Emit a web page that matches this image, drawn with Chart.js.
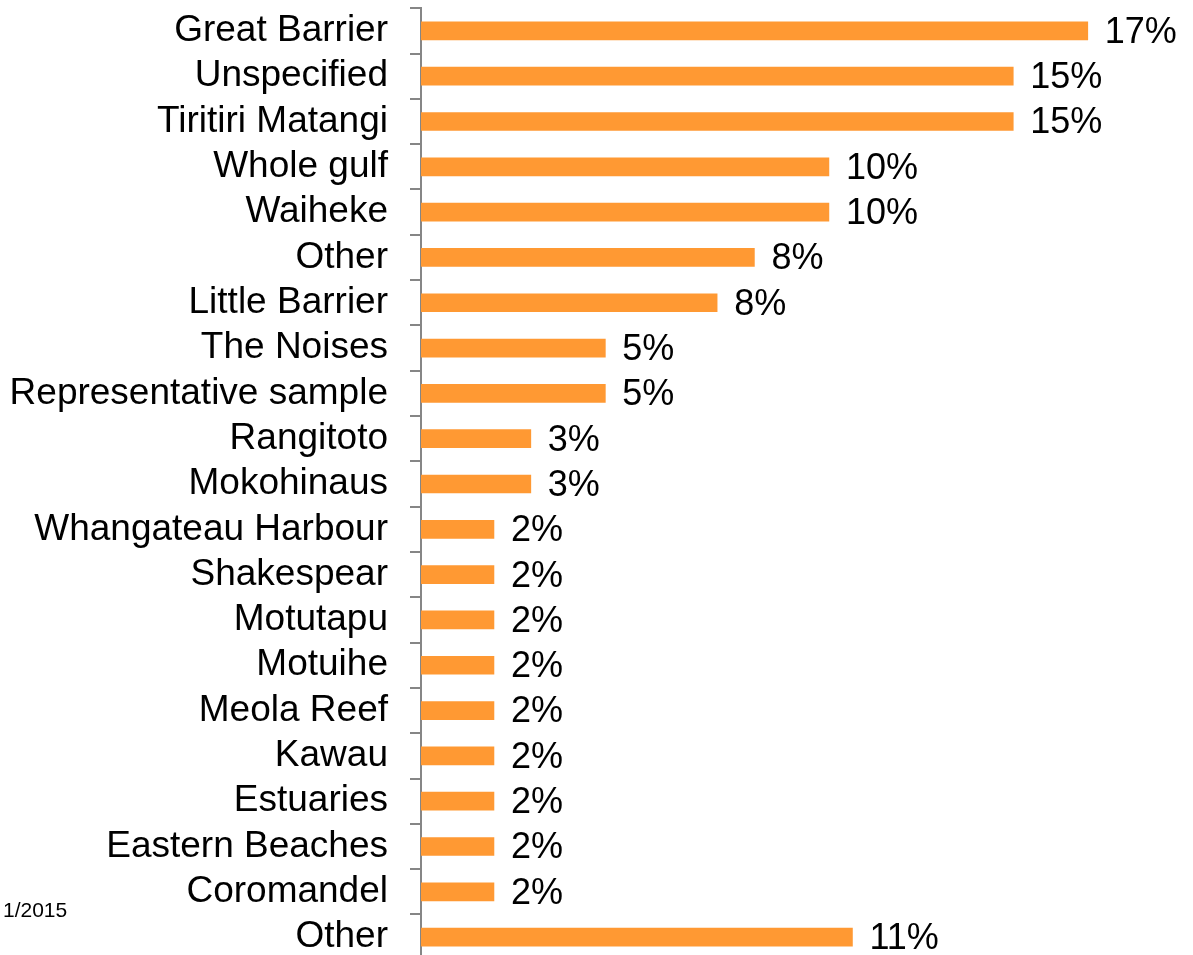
<!DOCTYPE html>
<html>
<head>
<meta charset="utf-8">
<script src="https://cdn.jsdelivr.net/npm/chart.js@4/dist/chart.umd.min.js"></script>
<style>
  html, body { margin: 0; padding: 0; background: #fff; overflow: hidden; }
  #wrap { position: relative; width: 1193px; height: 955px; overflow: hidden; }
  #c { position: absolute; left: 0; top: -36px; }
  #note { position: absolute; left: 3px; top: 898px; font: 21px "Liberation Sans", Arial, sans-serif; color: #000; }
</style>
</head>
<body>
<div id="wrap">
  <canvas id="c" width="1193" height="1040"></canvas>
  <div id="note">1/2015</div>
</div>
<script>
const categories = ["Great Barrier", "Unspecified", "Tiritiri Matangi", "Whole gulf", "Waiheke", "Other", "Little Barrier", "The Noises", "Representative sample", "Rangitoto", "Mokohinaus", "Whangateau Harbour", "Shakespear", "Motutapu", "Motuihe", "Meola Reef", "Kawau", "Estuaries", "Eastern Beaches", "Coromandel", "Other"];
const values = [17.0, 15.1, 15.1, 10.4, 10.4, 8.5, 7.55, 4.7, 4.7, 2.8, 2.8, 1.86, 1.86, 1.86, 1.86, 1.86, 1.86, 1.86, 1.86, 1.86, 11.0];
const valueLabels = ["17%", "15%", "15%", "10%", "10%", "8%", "8%", "5%", "5%", "3%", "3%", "2%", "2%", "2%", "2%", "2%", "2%", "2%", "2%", "2%", "11%"];

const FONT = '"Liberation Sans", Arial, sans-serif';

const labelPlugin = {
  id: 'valueLabels',
  afterDatasetsDraw(chart) {
    const ctx = chart.ctx;
    const meta = chart.getDatasetMeta(0);
    ctx.save();
    ctx.font = '36px ' + FONT;
    ctx.fillStyle = '#000';
    ctx.textAlign = 'left';
    ctx.textBaseline = 'middle';
    meta.data.forEach((bar, i) => {
      ctx.fillText(valueLabels[i], bar.x + 17, bar.y + 2);
    });
    ctx.restore();
  }
};

new Chart(document.getElementById('c'), {
  type: 'bar',
  data: {
    labels: categories,
    datasets: [{
      data: values,
      backgroundColor: '#FF9933',
      borderWidth: 0,
      barThickness: 18
    }]
  },
  options: {
    indexAxis: 'y',
    responsive: false,
    animation: false,
    layout: { padding: { top: 8, bottom: 2, right: 66, left: 0 } },
    plugins: { legend: { display: false }, tooltip: { enabled: false } },
    scales: {
      x: {
        display: false,
        min: 0,
        max: 18
      },
      y: {
        afterFit(scale) { scale.width = 421; },
        border: { display: true, color: '#868686', width: 2 },
        grid: {
          offset: true,
          drawOnChartArea: false,
          drawTicks: true,
          tickLength: 11,
          color: '#868686',
          lineWidth: 2
        },
        ticks: {
          color: '#000',
          font: { family: FONT, size: 37 },
          padding: 22,
          autoSkip: false
        }
      }
    }
  },
  plugins: [labelPlugin]
});
</script>
</body>
</html>
